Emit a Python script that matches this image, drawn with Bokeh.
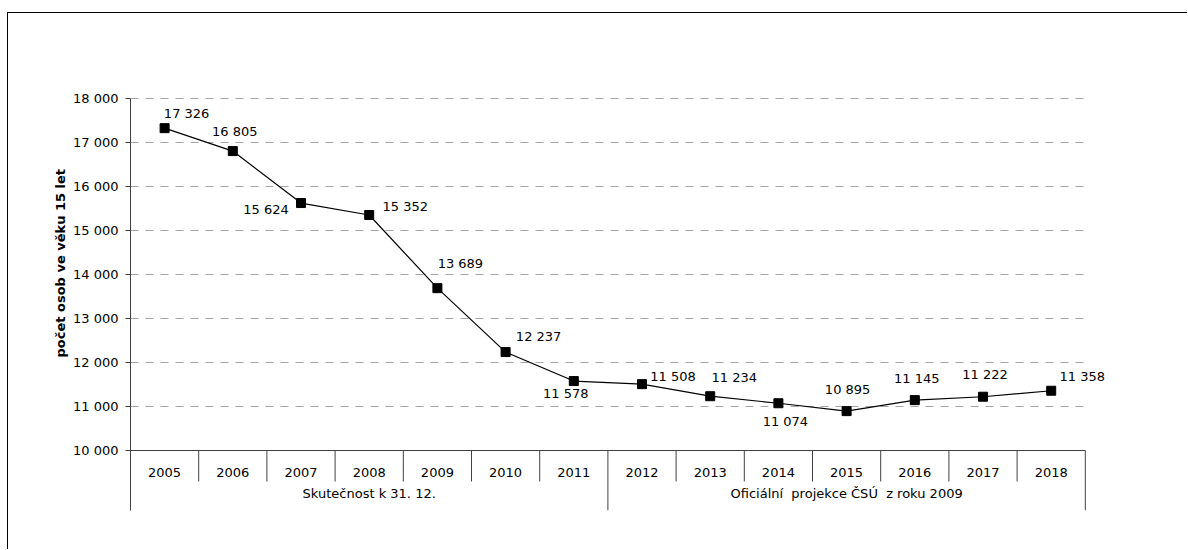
from bokeh.plotting import figure
from bokeh.models import ColumnDataSource, Range1d, FixedTicker, Title
from bokeh.core.properties import value
from bokeh.embed import file_html
from bokeh.resources import INLINE

# ---- data ----
years = ["2005", "2006", "2007", "2008", "2009", "2010", "2011",
         "2012", "2013", "2014", "2015", "2016", "2017", "2018"]
persons = [17326, 16805, 15624, 15352, 13689, 12237, 11578,
           11508, 11234, 11074, 10895, 11145, 11222, 11358]
value_labels = ["17 326", "16 805", "15 624", "15 352", "13 689", "12 237", "11 578",
                "11 508", "11 234", "11 074", "10 895", "11 145", "11 222", "11 358"]
groups = ["Skutečnost k 31. 12.", "Oficiální\u00a0 projekce ČSÚ\u00a0 z roku 2009"]
group_sizes = [7, 7]
y_ticks = [10000, 11000, 12000, 13000, 14000, 15000, 16000, 17000, 18000]
y_tick_labels = ["10 000", "11 000", "12 000", "13 000", "14 000",
                 "15 000", "16 000", "17 000", "18 000"]
y_title = "počet osob ve věku 15 let"

# ---- style (label offsets in screen px, relative to the point) ----
label_dx = [22, 2, -35, 36, 23, 33, -8, 31, 24, 7, 1, 2, 2, 31]
label_dy = [-15, -20, 6, -9, -25, -16, 12, -8, -19, 18, -22, -22, -22, -14]

FONT = "DejaVu Sans"
AXIS_COLOR = "#404040"
GRID_COLOR = "#a6a6a6"

PX_PER_UNIT = 352 / 8000          # vertical scale of the reference
CAT_PX = 955 / 14                 # width of one category
y_min = y_ticks[0] - 60 / PX_PER_UNIT
y_max = y_ticks[-1] + 3 / PX_PER_UNIT
frame_h = round((y_max - y_min) * PX_PER_UNIT)
x_max = 15
frame_w = round(x_max * CAT_PX)

W, H = 1180, 537
B_LEFT, B_TOP = 122, 82
B_BOTTOM = H - B_TOP - frame_h
B_RIGHT = W - B_LEFT - frame_w


def y_below(px):
    """data value lying `px` screen pixels below the 10 000 axis line"""
    return y_ticks[0] - px / PX_PER_UNIT


p = figure(width=W, height=H, output_backend="svg", toolbar_location=None,
           x_range=Range1d(0, x_max), y_range=Range1d(y_min, y_max),
           x_axis_location=None, min_border_left=B_LEFT, min_border_right=B_RIGHT,
           min_border_top=B_TOP, min_border_bottom=B_BOTTOM)
p.margin = (12, 0, 0, 7)
p.styles = {"border-top": "1px solid #000000", "border-left": "1px solid #000000"}
p.outline_line_color = None
p.background_fill_color = "white"
p.border_fill_color = "white"
p.xgrid.visible = False
p.ygrid.visible = False

# y axis
ax = p.yaxis[0]
ax.ticker = FixedTicker(ticks=y_ticks)
ax.bounds = (y_min, y_ticks[-1])
ax.major_label_overrides = {t: l for t, l in zip(y_ticks, y_tick_labels)}
ax.minor_tick_line_color = None
ax.major_tick_in = 0
ax.major_tick_out = 5
ax.major_label_standoff = 7
ax.axis_line_color = AXIS_COLOR
ax.major_tick_line_color = AXIS_COLOR
ax.major_label_text_font = FONT
ax.major_label_text_font_size = "13px"
ax.major_label_text_color = "#000000"

# y axis title (vertical title panel, shifted up onto the 10 000 - 18 000 span)
p.add_layout(Title(text=y_title, align="left", offset=153, standoff=5,
                   text_font=FONT, text_font_style="bold", text_font_size="13px",
                   text_color="#000000"), "left")

n = len(years)
# horizontal dashed grid lines (only across the category area)
gy = y_ticks[1:]
p.segment(x0=[0] * len(gy), x1=[n] * len(gy), y0=gy, y1=gy,
          line_color=GRID_COLOR, line_width=1, line_dash="8 7")

# category axis (two levels, drawn in the extended frame)
xc = [i + 0.5 for i in range(n)]
p.segment(x0=[0], x1=[n], y0=[y_ticks[0]], y1=[y_ticks[0]],
          line_color=AXIS_COLOR, line_width=1)
group_edges = [0]
for s in group_sizes:
    group_edges.append(group_edges[-1] + s)
year_edges = [i for i in range(1, n) if i not in group_edges]
p.segment(x0=year_edges, x1=year_edges, y0=[y_ticks[0]] * len(year_edges),
          y1=[y_below(31)] * len(year_edges), line_color=AXIS_COLOR, line_width=1)
p.segment(x0=group_edges, x1=group_edges, y0=[y_ticks[0]] * len(group_edges),
          y1=[y_min] * len(group_edges), line_color=AXIS_COLOR, line_width=1)
p.text(x=xc, y=[y_ticks[0]] * n, text=years, y_offset=22,
       text_align="center", text_baseline="middle",
       text_font=value(FONT), text_font_size="13px", text_color="#000000")
gx = [(group_edges[i] + group_edges[i + 1]) / 2 for i in range(len(groups))]
p.text(x=gx, y=[y_ticks[0]] * len(groups), text=groups, y_offset=43,
       text_align="center", text_baseline="middle",
       text_font=value(FONT), text_font_size="13px", text_color="#000000")

# series
src = ColumnDataSource(dict(x=xc, y=persons, lbl=value_labels, dx=label_dx, dy=label_dy))
p.line("x", "y", source=src, line_color="#000000", line_width=1.2)
p.scatter("x", "y", source=src, marker="square", size=9,
          fill_color="#000000", line_color="#000000")
p.text("x", "y", text="lbl", x_offset="dx", y_offset="dy", source=src,
       text_align="center", text_baseline="middle",
       text_font=value(FONT), text_font_size="13px", text_color="#000000")

open("out.html", "w").write(file_html(p, INLINE))
